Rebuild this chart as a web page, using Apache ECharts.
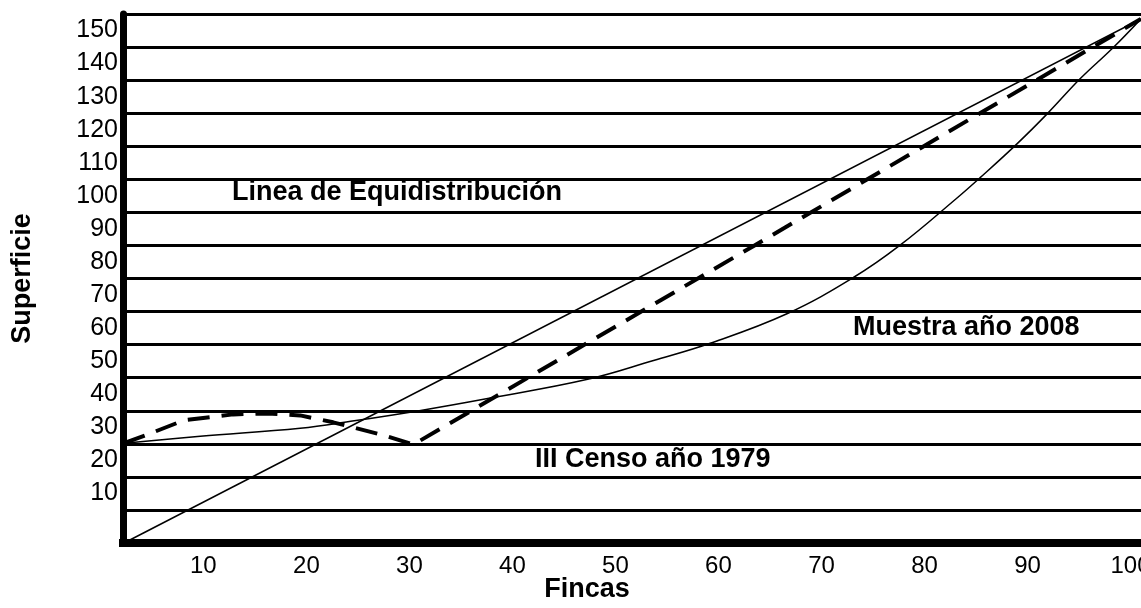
<!DOCTYPE html>
<html>
<head>
<meta charset="utf-8">
<script src="https://cdn.jsdelivr.net/npm/echarts@6/dist/echarts.min.js"></script>
<style>
    html, body {margin: 0; padding: 0; background: #fff;}
    #chart {width: 1141px; height: 608px;}
</style>
</head>
<body>
<div id="chart"></div>
<script>
// tick labels
const fincasTicks = [10, 20, 30, 40, 50, 60, 70, 80, 90, 100]
const superficieLabels = ['', '10', '20', '30', '40', '50', '60', '70', '80', '90', '100', '110', '120', '130', '140', '150']

// linea de equidistribucion
const equiX = [2.3, 101]
const equiY = [0, 158.5]

// III Censo año 1979 (dashed)
const censoX = [2.3, 4.9, 8.1, 12.9, 16.2, 19.4, 22.6, 27.5, 30.4, 63.5, 101]
const censoY = [30.2, 33.2, 37.1, 38.9, 39.2, 38.6, 36.5, 32.6, 29.8, 90.0, 158.5]

// Muestra año 2008 (curve)
const muestraX = [2.3, 9.7, 19.4, 24.3, 31.1, 37.6, 47.3, 53.7, 59.2, 66.7, 73.1, 77.6, 83.1, 85.4, 89.0, 92.0, 95.1, 98.3, 101]
const muestraY = [30.2, 32.3, 34.7, 36.8, 40.1, 43.7, 49.5, 55.2, 60.4, 69.4, 80.3, 90.0, 104.2, 110.5, 120.8, 130.1, 140.4, 149.8, 158.5]

const zip = (xs, ys) => xs.map((x, i) => [x, ys[i]])
const fontFamily = '"Liberation Sans", Arial, sans-serif'
const boldFont = 'bold 27px ' + fontFamily

const note = (text, x, y, align) => ({
    type: 'text',
    silent: true,
    style: {
        text: text,
        x: x,
        y: y,
        font: boldFont,
        fill: '#000',
        align: align || 'left',
        textAlign: align || 'left',
        verticalAlign: 'middle',
        textVerticalAlign: 'middle',
    },
})

const chart = echarts.init(document.getElementById('chart'))

chart.setOption({
    animation: false,
    backgroundColor: '#fff',
    grid: {left: 123, top: 14, width: 1023, height: 529, outerBoundsMode: 'none'},
    xAxis: {
        type: 'value',
        min: 2.2,
        max: 101.5,
        axisLine: {show: true, onZero: false, lineStyle: {color: '#000', width: 8, cap: 'square'}},
        axisTick: {show: false},
        splitLine: {show: false},
        axisLabel: {
            customValues: fincasTicks,
            color: '#000',
            fontSize: 24,
            fontFamily: fontFamily,
            margin: 11,
        },
    },
    yAxis: [
        {
            type: 'category',
            data: superficieLabels,
            boundaryGap: true,
            axisLine: {show: true, onZero: false, lineStyle: {color: '#000', width: 7}},
            axisTick: {show: false},
            axisLabel: {interval: 0, color: '#000', fontSize: 25, fontFamily: fontFamily, margin: 5},
            splitLine: {show: true, interval: 0, lineStyle: {color: '#000', width: 3}},
            name: 'Superficie',
            nameLocation: 'middle',
            nameGap: 87,
            nameTextStyle: {color: '#000', fontSize: 27, fontWeight: 'bold', fontFamily: fontFamily},
        },
        {type: 'value', min: 0, max: 160, show: false},
    ],
    series: [
        {
            name: 'Linea de Equidistribución',
            type: 'line',
            yAxisIndex: 1,
            data: zip(equiX, equiY),
            symbol: 'none',
            lineStyle: {color: '#000', width: 1.5},
        },
        {
            name: 'Muestra año 2008',
            type: 'line',
            yAxisIndex: 1,
            data: zip(muestraX, muestraY),
            symbol: 'none',
            smooth: 0.4,
            lineStyle: {color: '#000', width: 1.5},
        },
        {
            name: 'III Censo año 1979',
            type: 'line',
            yAxisIndex: 1,
            data: zip(censoX, censoY),
            symbol: 'none',
            lineStyle: {color: '#000', width: 4, type: [22, 12]},
        },
    ],
    graphic: [
        note('Linea de Equidistribución', 232, 193),
        note('Muestra año 2008', 853, 328),
        note('III Censo año 1979', 535, 460),
        note('Fincas', 587, 590, 'center'),
    ],
})
</script>
</body>
</html>
